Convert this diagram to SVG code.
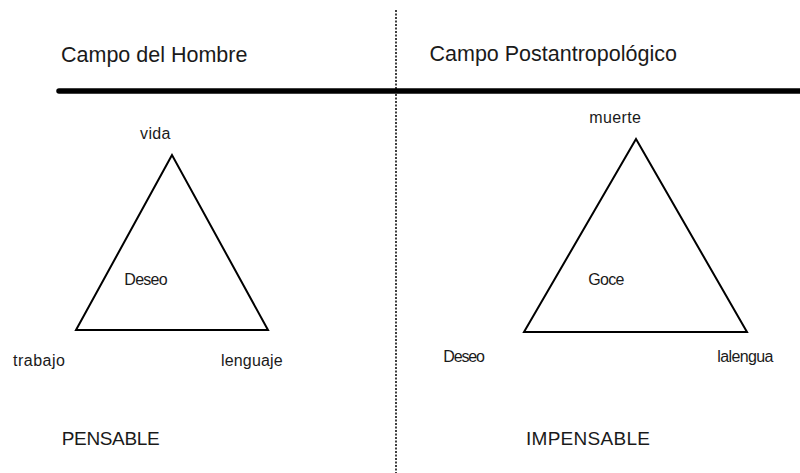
<svg xmlns="http://www.w3.org/2000/svg" width="800" height="473" viewBox="0 0 800 473">
<style>
text{font-family:"Liberation Sans",Arial,sans-serif;fill:#1a1a1a}
.h{font-size:21.5px}
.l{font-size:16px}
.c{font-size:19px}
.tri{fill:none;stroke:#000;stroke-width:2;stroke-linejoin:miter}
</style>
<rect width="800" height="473" fill="#fff"/>
<g id="connectors">
<line x1="396" y1="10" x2="396" y2="473" stroke="#000" stroke-width="1.5" stroke-dasharray="2 1.5"/>
<line x1="59" y1="91" x2="800" y2="91" stroke="#000" stroke-width="5.5" stroke-linecap="round"/>
</g>
<g id="header-left"><text class="h" x="61" y="61.5">Campo del Hombre</text></g>
<g id="header-right"><text class="h" x="429.5" y="61">Campo Postantropológico</text></g>
<g id="triangle-left">
<polygon class="tri" points="172,155 76,330 268,330"/>
<text class="l" x="140" y="139" textLength="30.5" lengthAdjust="spacing">vida</text>
<text class="l" x="124.3" y="285" textLength="43.4" lengthAdjust="spacing">Deseo</text>
<text class="l" x="13" y="365.5" textLength="52" lengthAdjust="spacing">trabajo</text>
<text class="l" x="221" y="365.5" textLength="61.7" lengthAdjust="spacing">lenguaje</text>
</g>
<g id="triangle-right">
<polygon class="tri" points="636,139 524,332 747,332"/>
<text class="l" x="589.3" y="122.7" textLength="51.7" lengthAdjust="spacing">muerte</text>
<text class="l" x="588.3" y="285" textLength="36" lengthAdjust="spacing">Goce</text>
<text class="l" x="443.3" y="361.7" textLength="41.7" lengthAdjust="spacing">Deseo</text>
<text class="l" x="717.3" y="361.7" textLength="56" lengthAdjust="spacing">lalengua</text>
</g>
<g id="pensable"><text class="c" x="61.7" y="445" textLength="98" lengthAdjust="spacing">PENSABLE</text></g>
<g id="impensable"><text class="c" x="526" y="445" textLength="124" lengthAdjust="spacing">IMPENSABLE</text></g>
</svg>
